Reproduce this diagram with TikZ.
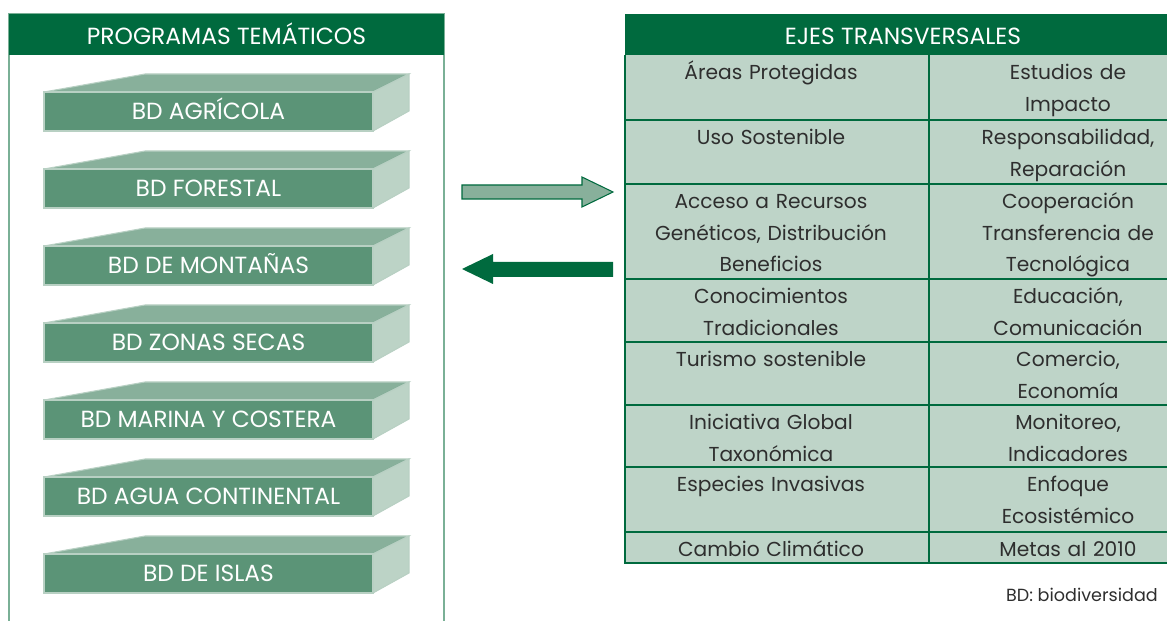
\documentclass[tikz,border=0pt]{standalone}
\usepackage{fontspec}
\setmainfont{Poppins}
\usepackage{tikz}

\definecolor{hdrgreen}{HTML}{006A3E}
\definecolor{frontgreen}{HTML}{5B9477}
\definecolor{topgreen}{HTML}{88B09B}
\definecolor{sidegreen}{HTML}{BCD3C6}
\definecolor{cellgreen}{HTML}{BED4C8}
\definecolor{panelline}{HTML}{7AB096}
\definecolor{celltext}{HTML}{2E2E2E}

\tikzset{
  header/.style={anchor=base, text=white, font=\fontsize{13.3}{16}\selectfont},
  boxlabel/.style={anchor=base, text=white, font=\fontsize{13.3}{16}\selectfont},
  facedge/.style={draw=topgreen!60!white, line width=0.6pt},
  gridline/.style={draw=hdrgreen, line width=1.2pt},
  cell/.style={anchor=north, inner sep=0pt, align=center, text=celltext, text width=5.6cm,
    font=\fontsize{11.5}{18}\selectfont, execute at begin node=\strut},
}

\begin{document}
\begin{tikzpicture}[x=0.02cm, y=-0.02cm]
        \useasboundingbox (0,0) rectangle (1167,621);
        \clip (0,0) rectangle (1167,621);

        % Programas tematicos
        \draw[panelline, line width=1.1pt] (9,640) -- (9,14) -- (444,14) -- (444,640);
        \fill[hdrgreen] (9,14) rectangle (444,55);
        \node[header] (progtitle) at (226.5,45) {PROGRAMAS TEMÁTICOS};

        \foreach \lbl [count=\i from 0] in {BD AGRÍCOLA, BD FORESTAL, BD DE MONTAÑAS,
            BD ZONAS SECAS, BD MARINA Y COSTERA, BD AGUA CONTINENTAL, BD DE ISLAS} {
          \pgfmathsetmacro\dy{77*\i}
          \filldraw[fill=topgreen, facedge] (44,92+\dy) -- (145,74+\dy) -- (409,74+\dy) -- (373,92+\dy) -- cycle;
          \filldraw[fill=sidegreen, facedge] (373,92+\dy) -- (409,74+\dy) -- (409,111+\dy) -- (373,131+\dy) -- cycle;
          \filldraw[fill=frontgreen, facedge] (44,92+\dy) rectangle (373,131+\dy);
          \node[boxlabel] (prog\i) at (208.5,120+\dy) {\lbl};
        }

        % Flechas
        \filldraw[fill=topgreen, draw=hdrgreen, line width=0.6pt] (462,185) -- (582,185) -- (582,177)
            -- (613,192) -- (582,207) -- (582,199) -- (462,199) -- cycle;
        \fill[hdrgreen] (613,262) -- (493,262) -- (493,254) -- (462,269) -- (493,284)
            -- (493,277) -- (613,277) -- cycle;

        % Ejes transversales
        \fill[cellgreen] (625,55) rectangle (1220,563);
        \fill[hdrgreen] (625,14) rectangle (1220,55);
        \node[header] (ejestitle) at (903,45) {EJES TRANSVERSALES};
        \foreach \yy in {120,184,279,342,405,467,532}
          \draw[gridline] (625,\yy) -- (1220,\yy);
        \draw[gridline] (625,55) -- (625,563) -- (1220,563);
        \draw[gridline] (929,55) -- (929,563);

        \foreach \yt/\ltxt/\rtxt [count=\k] in {
            55/{Áreas Protegidas}/{Estudios de\\Impacto},
            120/{Uso Sostenible}/{Responsabilidad,\\Reparación},
            184/{Acceso a Recursos\\Genéticos, Distribución\\Beneficios}/{Cooperación\\Transferencia de\\Tecnológica},
            279/{Conocimientos\\Tradicionales}/{Educación,\\Comunicación},
            342/{Turismo sostenible}/{Comercio,\\Economía},
            405/{Iniciativa Global\\Taxonómica}/{Monitoreo,\\Indicadores},
            467/{Especies Invasivas}/{Enfoque\\Ecosistémico},
            532/{Cambio Climático}/{Metas al 2010}} {
          \node[cell] (tema\k) at (771,\yt+2) {\ltxt};
          \node[cell] (area\k) at (1068,\yt+2) {\rtxt};
        }

        \node[anchor=base east, text=celltext, font=\fontsize{10}{12}\selectfont] (nota) at (1164,602) {BD: biodiversidad};
\end{tikzpicture}
\end{document}
